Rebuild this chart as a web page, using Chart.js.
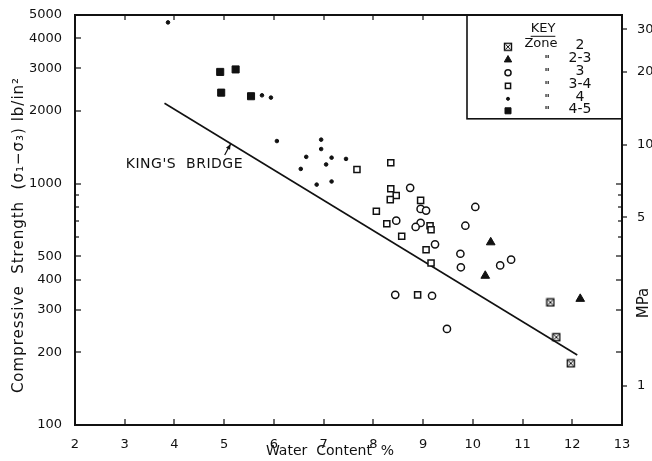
<!DOCTYPE html>
<html>
<head>
<meta charset="utf-8">
<script src="https://cdn.jsdelivr.net/npm/chart.js@4.4.1/dist/chart.umd.min.js"></script>
<style>
    html, body { margin: 0; padding: 0; background: #fff; }
    #wrap { width: 652px; height: 461px; }
</style>
</head>
<body>
<div id="wrap"><canvas id="chart" width="652" height="461"></canvas></div>
<script>
// ---- data: water content (%) / compressive strength (lb/in2) ----
const zone2Water = [11.56, 11.68, 11.97];
const zone2Strength = [322, 231, 180];

const zone23Water = [10.36, 10.25, 12.16];
const zone23Strength = [571, 415, 333];

const zone3Water = [8.74, 8.95, 9.06, 8.46, 8.95, 8.85, 9.24, 10.05, 9.85, 9.75, 9.76, 10.55, 10.77, 8.44, 9.18, 9.48];
const zone3Strength = [960, 785, 773, 702, 687, 661, 560, 800, 669, 512, 450, 458, 484, 346, 343, 250];

const zone34Water = [7.67, 8.35, 8.35, 8.46, 8.34, 8.06, 8.27, 8.57, 8.95, 9.14, 9.16, 9.06, 9.16, 8.89];
const zone34Strength = [1144, 1219, 951, 892, 858, 768, 682, 605, 852, 669, 644, 532, 469, 346];

const zone4Water = [3.87, 5.76, 5.94, 6.06, 6.95, 6.95, 6.65, 7.16, 7.45, 7.05, 6.54, 7.16, 6.86];
const zone4Strength = [4650, 2320, 2270, 1500, 1520, 1390, 1290, 1280, 1265, 1200, 1150, 1020, 990];

const zone45Water = [4.92, 5.23, 4.94, 5.54];
const zone45Strength = [2900, 2970, 2380, 2300];

// King's Bridge trend line end points
const kingsWater = [3.8, 12.1];
const kingsStrength = [2150, 195];

// axis ticks
const xTicks = [2, 3, 4, 5, 6, 7, 8, 9, 10, 11, 12, 13];
const psiTicks = [100, 200, 300, 400, 500, 600, 700, 800, 900, 1000, 2000, 3000, 4000, 5000];
const psiLabels = [100, 200, 300, 400, 500, 1000, 2000, 3000, 4000, 5000];
const mpaTicks = [1, 5, 10, 20, 30];
const keyZones = ['2', '2-3', '3', '3-4', '4', '4-5'];

const PSI_PER_MPA = 145.04;
const FONT = "'DejaVu Sans', sans-serif";
const INK = '#111';

// zone 2 marker: square with a cross inside
function crossedSquare() {
    const c = document.createElement('canvas');
    c.width = 10; c.height = 10;
    const g = c.getContext('2d');
    g.strokeStyle = INK;
    g.lineWidth = 1.4;
    g.strokeRect(1.5, 1.5, 7, 7);
    g.lineWidth = 1;
    g.beginPath();
    g.moveTo(2.5, 2.5); g.lineTo(7.5, 7.5);
    g.moveTo(7.5, 2.5); g.lineTo(2.5, 7.5);
    g.stroke();
    return c;
}

const pts = (xs, ys) => xs.map((v, i) => ({ x: v, y: ys[i] }));

const datasets = [
    { label: '2', data: pts(zone2Water, zone2Strength), pointStyle: crossedSquare(), pointRadius: 5,
      backgroundColor: '#fff', borderColor: INK, borderWidth: 1.3 },
    { label: '2-3', data: pts(zone23Water, zone23Strength), pointStyle: 'triangle', pointRadius: 5,
      backgroundColor: INK, borderColor: INK, borderWidth: 1 },
    { label: '3', data: pts(zone3Water, zone3Strength), pointStyle: 'circle', pointRadius: 3.6,
      backgroundColor: '#fff', borderColor: INK, borderWidth: 1.5 },
    { label: '3-4', data: pts(zone34Water, zone34Strength), pointStyle: 'rect', pointRadius: 4.3,
      backgroundColor: '#fff', borderColor: INK, borderWidth: 1.5 },
    { label: '4', data: pts(zone4Water, zone4Strength), pointStyle: 'circle', pointRadius: 1.8,
      backgroundColor: INK, borderColor: INK, borderWidth: 1 },
    { label: '4-5', data: pts(zone45Water, zone45Strength), pointStyle: 'rect', pointRadius: 5,
      backgroundColor: INK, borderColor: INK, borderWidth: 1 },
    { label: "King's Bridge", type: 'line', data: pts(kingsWater, kingsStrength), borderColor: INK,
      borderWidth: 1.6, pointRadius: 0, fill: false, tension: 0 }
];

// titles, annotation, key, then frame and ticks (as filled bars)
const paper = {
    id: 'paper',
    afterDraw(chart) {
        const { ctx, chartArea: a, scales: { x, y, y2 } } = chart;
        ctx.save();
        ctx.strokeStyle = INK;
        ctx.fillStyle = INK;

        // axis titles
        ctx.textAlign = 'center';
        ctx.textBaseline = 'middle';
        ctx.font = '14px ' + FONT;
        ctx.fillText('Water  Content  %', 330, 451);

        ctx.save();
        ctx.font = '15px ' + FONT;
        ctx.letterSpacing = '1px';
        ctx.translate(19, 235);
        ctx.rotate(-Math.PI / 2);
        ctx.fillText('Compressive  Strength  (σ₁−σ₃) lb/in²', 0, 0);
        ctx.restore();

        ctx.save();
        ctx.font = '15px ' + FONT;
        ctx.translate(644, 303);
        ctx.rotate(-Math.PI / 2);
        ctx.fillText('MPa', 0, 0);
        ctx.restore();

        // King's Bridge label and arrow
        ctx.save();
        ctx.font = '14px ' + FONT;
        ctx.letterSpacing = '0.5px';
        ctx.fillText("KING'S  BRIDGE", x.getPixelForValue(4.2), y.getPixelForValue(1200));
        ctx.restore();
        const tx = x.getPixelForValue(5.01), ty = y.getPixelForValue(1314);
        const hx = x.getPixelForValue(5.13), hy = y.getPixelForValue(1460);
        ctx.lineWidth = 1.2;
        ctx.beginPath();
        ctx.moveTo(tx, ty); ctx.lineTo(hx, hy);
        ctx.stroke();
        const ang = Math.atan2(hy - ty, hx - tx);
        ctx.beginPath();
        ctx.moveTo(hx, hy);
        ctx.lineTo(hx - 6 * Math.cos(ang - 0.4), hy - 6 * Math.sin(ang - 0.4));
        ctx.lineTo(hx - 6 * Math.cos(ang + 0.4), hy - 6 * Math.sin(ang + 0.4));
        ctx.closePath();
        ctx.fill();

        // key box
        const kx0 = a.right - 155, ky0 = a.top, ky1 = a.top + 104;
        ctx.fillStyle = '#fff';
        ctx.fillRect(kx0, ky0, a.right - kx0, ky1 - ky0);
        ctx.lineWidth = 1.6;
        ctx.strokeRect(kx0, ky0, a.right - kx0, ky1 - ky0);
        ctx.fillStyle = INK;
        ctx.font = '13px ' + FONT;
        ctx.fillText('KEY', kx0 + 76, ky0 + 14);
        const kw = ctx.measureText('KEY').width;
        ctx.fillRect(kx0 + 76 - kw / 2, ky0 + 21, kw, 1);
        ctx.fillText('Zone', kx0 + 74, ky0 + 29);

        const rowY = [31, 44, 57, 70, 83, 95];
        keyZones.forEach((z, i) => {
            const ds = datasets[i];
            const cy = ky0 + rowY[i];
            ctx.fillStyle = ds.backgroundColor;
            ctx.strokeStyle = ds.borderColor;
            ctx.lineWidth = ds.borderWidth;
            Chart.helpers.drawPoint(ctx, {
                pointStyle: ds.pointStyle, radius: ds.pointRadius * 0.85,
                borderWidth: ds.borderWidth, rotation: 0
            }, kx0 + 41, cy + 1);
            ctx.fillStyle = INK;
            ctx.font = '14px ' + FONT;
            ctx.fillText(z, kx0 + 113, cy);
            if (i > 0) {
                ctx.font = 'bold 10px ' + FONT;
                ctx.fillText('"', kx0 + 80, cy + 2);
            }
        });

        // frame
        ctx.fillStyle = INK;
        const L = Math.round(a.left), R = Math.round(a.right), T = Math.round(a.top), B = Math.round(a.bottom);
        ctx.fillRect(L - 1, T - 1, R - L + 2, 2);
        ctx.fillRect(L - 1, B - 1, R - L + 2, 2);
        ctx.fillRect(L - 1, T - 1, 2, B - T + 2);
        ctx.fillRect(R - 1, T - 1, 2, B - T + 2);

        // inward ticks
        xTicks.forEach(v => {
            const px = Math.round(x.getPixelForValue(v));
            ctx.fillRect(px - 0.6, B - 6, 1.2, 6);
            if (px < kx0) ctx.fillRect(px - 0.6, T, 1.2, 5);
        });
        psiTicks.forEach(v => {
            const py = Math.round(y.getPixelForValue(v));
            const len = psiLabels.includes(v) ? 6 : 4;
            ctx.fillRect(L, py - 0.6, len, 1.2);
            if (py > ky1) ctx.fillRect(R - len, py - 0.6, len, 1.2);
        });
        // outward MPa ticks
        mpaTicks.forEach(v => {
            const py = Math.round(y2.getPixelForValue(v));
            ctx.fillRect(R, py - 0.6, 5, 1.2);
        });
        ctx.restore();
    }
};

new Chart(document.getElementById('chart'), {
    type: 'scatter',
    data: { datasets },
    options: {
        responsive: false,
        animation: false,
        layout: { padding: { top: 14, left: 0, right: 0, bottom: 0 } },
        plugins: { legend: { display: false }, tooltip: { enabled: false } },
        scales: {
            x: {
                type: 'linear', min: 2, max: 13,
                afterBuildTicks: s => { s.ticks = xTicks.map(v => ({ value: v })); },
                afterFit: s => { s.height = 36; },
                grid: { display: false },
                border: { display: false },
                ticks: { color: INK, font: { family: FONT, size: 13 }, padding: 4, autoSkip: false, maxRotation: 0 }
            },
            y: {
                type: 'logarithmic', position: 'left', min: 100, max: 5000,
                afterBuildTicks: s => { s.ticks = psiTicks.map(v => ({ value: v })); },
                afterFit: s => { s.width = 75; },
                grid: { display: false },
                border: { display: false },
                ticks: {
                    color: INK, font: { family: FONT, size: 13 }, padding: 5, autoSkip: false,
                    callback: v => psiLabels.includes(v) ? String(v) : ''
                }
            },
            y2: {
                type: 'logarithmic', position: 'right',
                min: 100 / PSI_PER_MPA, max: 5000 / PSI_PER_MPA,
                afterBuildTicks: s => { s.ticks = mpaTicks.map(v => ({ value: v })); },
                afterFit: s => { s.width = 30; },
                grid: { display: false },
                border: { display: false },
                ticks: { color: INK, font: { family: FONT, size: 13 }, padding: 7, autoSkip: false,
                         callback: v => String(v) }
            }
        }
    },
    plugins: [paper]
});
</script>
</body>
</html>
